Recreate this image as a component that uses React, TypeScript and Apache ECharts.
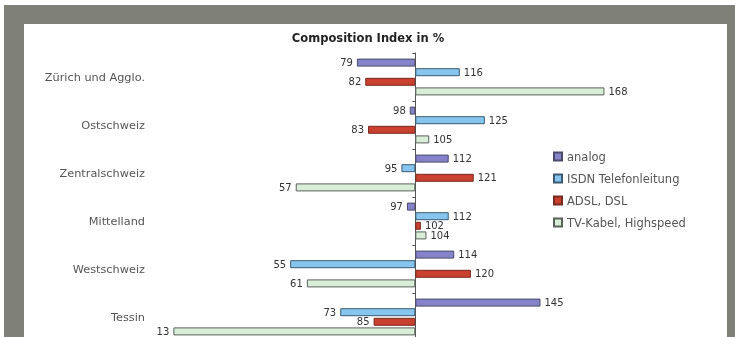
import React, { useEffect, useRef } from "react";
import * as echarts from "echarts";

const categories = ["Zürich und Agglo.", "Ostschweiz", "Zentralschweiz", "Mittelland", "Westschweiz", "Tessin"];
const seriesNames = ["analog", "ISDN Telefonleitung", "ADSL, DSL", "TV-Kabel, Highspeed"];
const analog = [79, 98, 112, 97, 114, 145];
const isdn = [116, 125, 95, 112, 55, 73];
const adsl = [82, 83, 121, 102, 120, 85];
const tv = [168, 105, 57, 104, 61, 13];
const baseline = 100;
const colors = ["#8482c8", "#86c6ee", "#c9412e", "#d8eed8"];
const borders = ["#4c4a6a", "#3c5a70", "#7a2a20", "#5a625a"];

export default function App() {
  const ref = useRef<HTMLDivElement>(null);
  useEffect(() => {
    document.body.style.margin = "0";
    document.body.style.overflow = "hidden";
    const chart = echarts.init(ref.current!, null, { renderer: "svg" });
    const all = [analog, isdn, adsl, tv];
    const series = all.map((vals, si) => ({
      type: "bar",
      name: seriesNames[si],
      xAxisIndex: 0,
      yAxisIndex: 0,
      barWidth: 8,
      barGap: "20%",
      z: 3,
      itemStyle: { color: colors[si], borderColor: borders[si], borderWidth: 1 },
      label: {
        show: true,
        fontSize: 10,
        fontFamily: "DejaVu Sans",
        color: "#333",
        distance: 4,
        formatter: (p: any) => String(vals[p.dataIndex]),
      },
      data: vals.map((v) => ({
        value: v - baseline,
        label: { position: v < baseline ? "left" : "right" },
      })),
    }));
    chart.setOption({
      animation: false,
      graphic: [
        { type: "rect", z: -10, shape: { x: 4, y: 5, width: 731, height: 345 }, style: { fill: "#7f8078" }, silent: true },
        { type: "rect", z: -9, shape: { x: 24, y: 24, width: 703, height: 330 }, style: { fill: "#ffffff" }, silent: true },
      ],
      title: {
        text: "Composition Index in %",
        left: 363,
        textAlign: "center",
        top: 27,
        textStyle: { fontFamily: "DejaVu Sans", fontWeight: "bold", fontSize: 11.5, color: "#222" },
      },
      legend: {
        orient: "vertical",
        left: 548,
        top: 145,
        itemWidth: 8,
        itemHeight: 8,
        itemGap: 9,
        icon: "rect",
        textStyle: { fontFamily: "DejaVu Sans", fontSize: 11.5, lineHeight: 13, color: "#555" },
        data: seriesNames,
      },
      grid: { left: 165, top: 53, width: 445, height: 288, containLabel: false },
      xAxis: [{ type: "value", min: -90, max: 70, show: false }],
      yAxis: [
        {
          type: "category",
          data: categories,
          inverse: true,
          axisLine: { show: true, onZero: true, lineStyle: { color: "#555", width: 1 } },
          axisTick: { show: true, length: 3, lineStyle: { color: "#555" } },
          axisLabel: { show: false },
        },
        {
          type: "category",
          data: categories,
          inverse: true,
          position: "left",
          axisLine: { show: false, onZero: false },
          axisTick: { show: false },
          axisLabel: { show: true, margin: 20, fontFamily: "DejaVu Sans", fontSize: 11.3, color: "#555" },
        },
      ],
      series,
    });
    return () => chart.dispose();
  }, []);
  return <div ref={ref} style={{ position: "fixed", left: 0, top: 0, width: 735, height: 350 }} />;
}
